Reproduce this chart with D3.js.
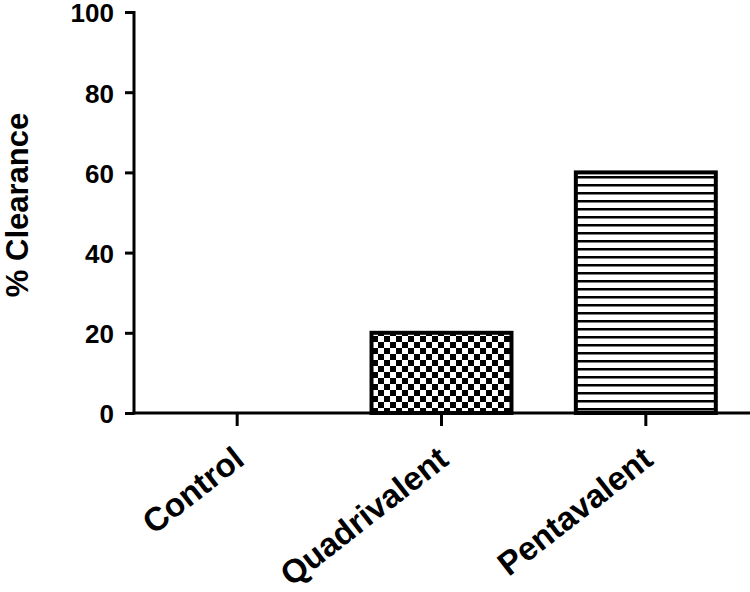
<!DOCTYPE html>
<html><head><meta charset="utf-8">
<script src="https://cdn.jsdelivr.net/npm/d3@7"></script>
<style>body{margin:0;background:#fff}svg{display:block}</style>
</head><body>
<script>
const categories = ["Control", "Quadrivalent", "Pentavalent"];
const values = [0, 20, 60];
const patterns = ["none", "check", "hlines"];
const yTicks = [0, 20, 40, 60, 80, 100];

const W = 750, H = 592;
const FONT = "Liberation Sans, Arial, sans-serif";
const svg = d3.select("body").append("svg").attr("width", W).attr("height", H);
const defs = svg.append("defs");
const chk = defs.append("pattern").attr("id", "check").attr("patternUnits", "userSpaceOnUse")
  .attr("width", 12).attr("height", 12);
chk.append("rect").attr("width", 12).attr("height", 12).attr("fill", "#fff");
chk.append("rect").attr("width", 6).attr("height", 6).attr("fill", "#000");
chk.append("rect").attr("x", 6).attr("y", 6).attr("width", 6).attr("height", 6).attr("fill", "#000");
const hl = defs.append("pattern").attr("id", "hlines").attr("patternUnits", "userSpaceOnUse")
  .attr("width", 8).attr("height", 8);
hl.append("rect").attr("width", 8).attr("height", 8).attr("fill", "#fff");
hl.append("rect").attr("y", 0).attr("width", 8).attr("height", 2.5).attr("fill", "#000");

const x0 = 134, x1 = 748, yTop = 12, yBot = 413;
const x = d3.scaleBand().domain(categories).range([x0 + 1, x1]).paddingInner(0.315).paddingOuter(0.1575);
const y = d3.scaleLinear().domain([0, 100]).range([yBot, yTop]);

// bars
svg.append("g").selectAll("rect").data(categories.map((c, i) => ({c, v: values[i], p: patterns[i]})))
  .join("rect")
  .filter(d => d.v > 0)
  .attr("x", d => x(d.c)).attr("width", x.bandwidth())
  .attr("y", d => y(d.v)).attr("height", d => y(0) - y(d.v))
  .attr("fill", d => `url(#${d.p})`).attr("stroke", "#000").attr("stroke-width", 4);

// y axis
const ya = svg.append("g").attr("transform", `translate(${x0},0)`)
  .call(d3.axisLeft(y).tickValues(yTicks).tickSize(9).tickPadding(11).tickSizeOuter(0));
ya.select(".domain").attr("stroke-width", 3).attr("d", `M0,${yTop - 1}V${yBot + 1.5}`);
ya.selectAll(".tick line").attr("stroke-width", 3);
ya.selectAll(".tick text").attr("font-family", FONT)
  .attr("font-weight", "bold").attr("font-size", 26).attr("fill", "#000").attr("dy", "0.38em");

// x axis
const xa = svg.append("g").attr("transform", `translate(0,${yBot})`)
  .call(d3.axisBottom(x).tickSize(13).tickSizeOuter(0).tickPadding(0));
xa.select(".domain").attr("stroke-width", 3).attr("d", `M${x0 - 1.5},0H${x1 + 2}`);
xa.selectAll(".tick line").attr("stroke-width", 3);
xa.selectAll(".tick text").attr("font-family", FONT)
  .attr("font-weight", "bold").attr("font-size", 33).attr("fill", "#000")
  .attr("text-anchor", "end").attr("y", 0).attr("dy", 0)
  .attr("transform", "translate(9,50) rotate(-38)");

// y label
svg.append("text").attr("transform", "translate(28,205) rotate(-90)")
  .attr("text-anchor", "middle").attr("font-family", FONT)
  .attr("font-weight", "bold").attr("font-size", 31).attr("fill", "#000").text("% Clearance");
</script>
</body></html>
